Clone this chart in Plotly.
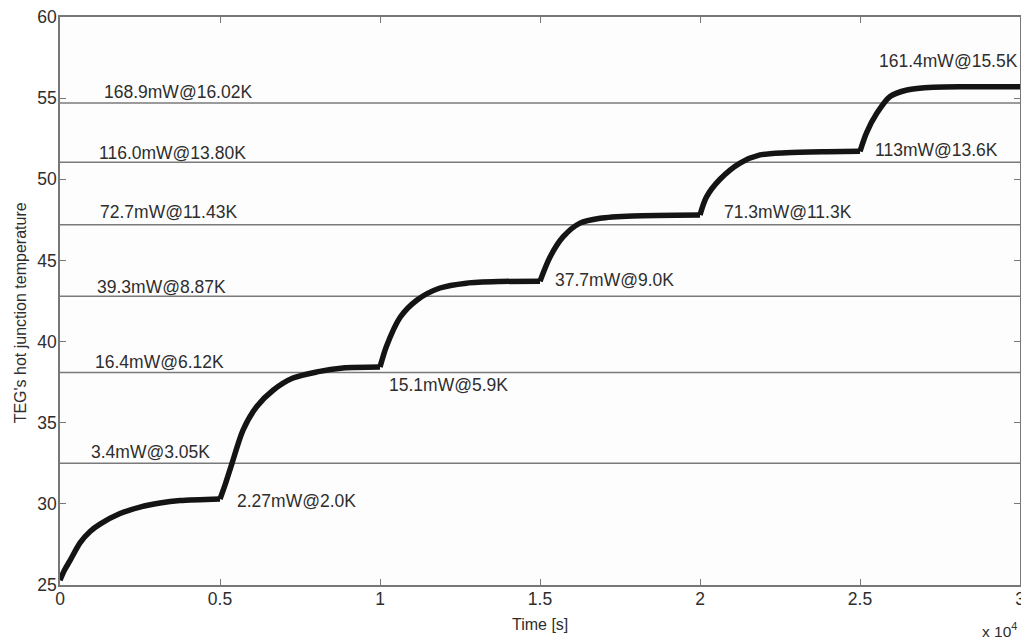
import plotly.graph_objects as go

# ---- data ----
time_s = [0, 150, 312, 625, 940, 1250, 1875, 2500, 3125, 3750, 5000,
          5180, 5375, 5720, 6150, 6660, 7280, 8030, 8840, 10000,
          10200, 10630, 11150, 11875, 12700, 13750, 15000,
          15310, 15720, 16250, 16875, 17900, 20000,
          20200, 20625, 21250, 21875, 22700, 23960, 25000,
          25200, 25530, 25940, 26470, 27300, 28340, 30000]
temp = [25.3, 25.95, 26.5, 27.6, 28.3, 28.75, 29.4, 29.8, 30.05, 30.2, 30.3,
        31.3, 32.5, 34.55, 36.0, 37.0, 37.75, 38.13, 38.37, 38.43,
        39.7, 41.5, 42.55, 43.3, 43.6, 43.7, 43.72,
        45.2, 46.45, 47.3, 47.6, 47.74, 47.8,
        48.9, 50.0, 51.0, 51.5, 51.64, 51.7, 51.72,
        52.85, 54.08, 55.1, 55.5, 55.67, 55.7, 55.7]
step_times = [0, 5000, 10000, 15000, 20000, 25000, 30000]

ref_levels = [32.5, 38.1, 42.8, 47.2, 51.05, 54.7]
ref_labels = ["3.4mW@3.05K", "16.4mW@6.12K", "39.3mW@8.87K",
              "72.7mW@11.43K", "116.0mW@13.80K", "168.9mW@16.02K"]
step_labels = ["2.27mW@2.0K", "15.1mW@5.9K", "37.7mW@9.0K",
               "71.3mW@11.3K", "113mW@13.6K", "161.4mW@15.5K"]

x_tickvals = [0, 5000, 10000, 15000, 20000, 25000, 30000]
x_ticktext = ["0", "0.5", "1", "1.5", "2", "2.5", "3"]
y_tickvals = [25, 30, 35, 40, 45, 50, 55, 60]

# ---- layout positions for labels (data coords) ----
ref_label_pos = [(906, 33.2), (1031, 38.74), (1094, 43.36),
                 (1188, 47.98), (1156, 51.62), (1313, 55.38)]
step_label_pos = [(5469, 30.2), (10219, 37.33), (15406, 43.8),
                  (20688, 47.98), (25406, 51.8), (25531, 57.3)]

FONT = "Liberation Sans, Arial, sans-serif"
TXT = "#2e2e2e"
fig = go.Figure()

# curve split per step so corners stay sharp
for i in range(len(step_times) - 1):
    a, b = step_times[i], step_times[i + 1]
    xs = [t for t in time_s if a <= t <= b]
    ys = [temp[k] for k, t in enumerate(time_s) if a <= t <= b]
    fig.add_trace(go.Scatter(x=xs, y=ys, mode="lines",
                             line=dict(color="#141414", width=5.5, shape="spline", smoothing=0.8),
                             showlegend=False, hoverinfo="skip"))

for lv in ref_levels:
    fig.add_shape(type="line", xref="paper", x0=0, x1=1, yref="y", y0=lv, y1=lv,
                  line=dict(color="#7a7a7a", width=1.5), layer="below")

anns = []
for txt, (x, y) in zip(ref_labels, ref_label_pos):
    anns.append(dict(x=x, y=y, text=txt, xanchor="left", yanchor="middle",
                     showarrow=False, font=dict(size=17.5, color=TXT, family=FONT)))
for txt, (x, y) in zip(step_labels, step_label_pos):
    anns.append(dict(x=x, y=y, text=txt, xanchor="left", yanchor="middle",
                     showarrow=False, font=dict(size=17.5, color=TXT, family=FONT)))
# axis titles
anns.append(dict(xref="paper", yref="paper", x=0.5, y=-0.0704, text="Time [s]",
                 xanchor="center", yanchor="middle", showarrow=False,
                 font=dict(size=16, color=TXT, family=FONT)))
anns.append(dict(xref="paper", yref="paper", x=-0.0417, y=0.48,
                 text="TEG's hot junction temperature", textangle=-90,
                 xanchor="center", yanchor="middle", showarrow=False,
                 font=dict(size=16, color=TXT, family=FONT)))
anns.append(dict(xref="paper", yref="paper", x=0.999, y=-0.079, text="x 10<sup>4</sup>",
                 xanchor="right", yanchor="middle", showarrow=False,
                 font=dict(size=15.5, color=TXT, family=FONT)))

fig.update_layout(
    width=1021, height=639,
    margin=dict(l=60, r=1, t=17, b=54, autoexpand=False),
    paper_bgcolor="white", plot_bgcolor="#fdfdfd",
    annotations=anns,
    font=dict(family=FONT, color=TXT),
)
fig.update_xaxes(range=[0, 30000], tickvals=x_tickvals, ticktext=x_ticktext,
                 showgrid=False, zeroline=False, showline=True, linecolor="#777",
                 linewidth=1.5, mirror="ticks", ticks="inside", ticklen=6,
                 tickcolor="#777", tickfont=dict(size=17.5, color=TXT), automargin=False,
                 ticklabeloverflow="allow", ticklabelstandoff=-3)
fig.update_yaxes(range=[25, 60], tickvals=y_tickvals,
                 showgrid=False, zeroline=False, showline=True, linecolor="#777",
                 linewidth=1.5, mirror="ticks", ticks="inside", ticklen=6,
                 tickcolor="#777", tickfont=dict(size=17.5, color=TXT), automargin=False,
                 ticklabeloverflow="allow", ticklabelstandoff=-2)

fig.write_html("out.html", config={"displayModeBar": False},
               post_script="document.body.style.margin='0';document.body.style.overflow='hidden';")
